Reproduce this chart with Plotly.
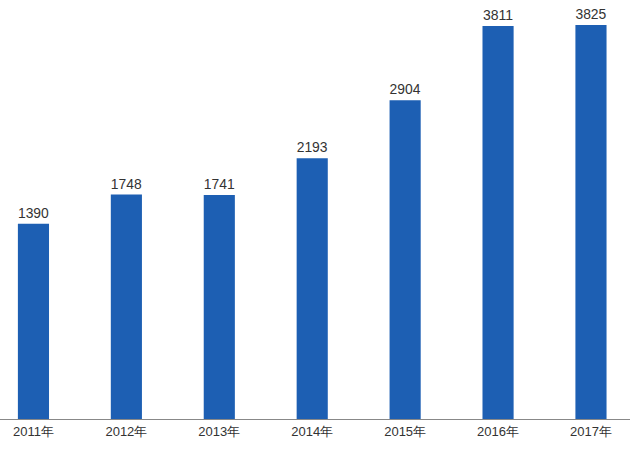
import plotly.graph_objects as go

categories = ["2011年", "2012年", "2013年", "2014年", "2015年", "2016年", "2017年"]
values = [1390, 1748, 1741, 2193, 2904, 3811, 3825]
axis_min = -1000
axis_max = 4130

fig = go.Figure(go.Bar(
    x=categories,
    y=[v - axis_min for v in values],
    base=axis_min,
    text=[str(v) for v in values],
    textposition="outside",
    textfont=dict(family="Liberation Sans, Arial", size=14, color="#333333"),
    marker=dict(color="#1d5fb3", line=dict(width=0)),
    width=0.335,
    cliponaxis=False,
))

fig.update_layout(
    width=630, height=452,
    margin=dict(l=0, r=0, t=0, b=33),
    paper_bgcolor="white", plot_bgcolor="white",
    showlegend=False,
    xaxis=dict(
        range=[-0.36, 6.42],
        showline=True, linecolor="#888888", linewidth=1,
        showgrid=False, ticks="",
        tickfont=dict(family="Liberation Sans, Arial", size=13, color="#333333"),
    ),
    yaxis=dict(
        range=[axis_min, axis_max],
        visible=False, showgrid=False, zeroline=False,
    ),
)

fig.write_html(
    "out.html",
    config={"displayModeBar": False},
    post_script="document.body.style.margin='0';document.body.style.overflow='hidden';",
)
